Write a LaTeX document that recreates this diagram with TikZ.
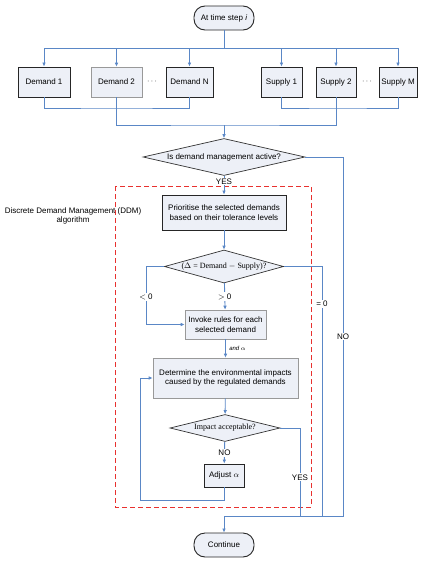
\documentclass[tikz,border=0pt]{standalone}
\usepackage{fontspec}
\setmainfont{Liberation Sans}
\newfontfamily\eqfont{Liberation Serif}
\usetikzlibrary{shapes.geometric, arrows.meta}
\definecolor{flowblue}{HTML}{5A87C6}
\definecolor{boxfill}{HTML}{EDF0F7}
\definecolor{ddmred}{HTML}{E8312F}
\begin{document}
\begin{tikzpicture}[x = 1pt, y = -1pt, font = \fontsize{8}{9.5}\selectfont,
  >={Latex[length = 4pt, width = 3.6pt]},
  box/.style = {draw = black!85, line width = 0.9pt, fill = boxfill, inner sep = 1pt, align = center},
  softbox/.style = {box, draw = gray!80, line width = 0.6pt},
  term/.style = {box, rounded corners = 11pt, minimum width = 60pt, minimum height = 24pt},
  decision/.style = {diamond, draw = black!80, line width = 0.7pt, fill = boxfill, inner sep = 0pt},
  flow/.style = {draw = flowblue, line width = 0.9pt},
  lbl/.style = {fill = white, inner sep = 1pt}]
\useasboundingbox (0,0) rectangle (421,573);
% frame of the DDM algorithm
\draw[ddmred, dashed, line width = 0.9pt, dash pattern = on 5pt off 3pt] (115,186) rectangle (311,507);
\node[align = center] at (73,216) (ddmlabel) {Discrete Demand Management (DDM)\\algorithm};
% nodes
\node[term] at (224,18) (start) {At time step \textit{i}};
\node[box, minimum width = 52pt, minimum height = 30pt] at (44,82) (d1) {Demand 1};
\node[softbox, minimum width = 51pt, minimum height = 30pt] at (116.5,82) (d2) {Demand 2};
\node[box, minimum width = 47pt, minimum height = 30pt] at (189.5,82) (dN) {Demand N};
\node at (152,82) (ddots) {$\cdots$};
\node[box, minimum width = 41pt, minimum height = 30pt] at (281.5,82) (s1) {Supply 1};
\node[box, minimum width = 40pt, minimum height = 30pt] at (336,82) (s2) {Supply 2};
\node[box, minimum width = 38pt, minimum height = 30pt] at (398,82) (sM) {Supply M};
\node at (367,82) (sdots) {$\cdots$};
\node[decision, aspect = 4.4, minimum width = 162pt, minimum height = 37pt] at (224,157) (dma) {Is demand management active?};
\node[box, minimum width = 124pt, minimum height = 35pt] at (224,212.5) (prio) {Prioritise the selected demands\\based on their tolerance levels};
\node[decision, aspect = 3.6, minimum width = 119pt, minimum height = 33pt, font = \eqfont\fontsize{8}{9.5}\selectfont] at (224,266.5) (delta) {($\Delta$ = Demand $-$ Supply)?};
\node[softbox, minimum width = 81pt, minimum height = 29pt] at (225.5,324.5) (invoke) {Invoke rules for each\\selected demand};
\node[softbox, minimum width = 145pt, minimum height = 40pt] at (225.5,378) (determine) {Determine the environmental impacts\\caused by the regulated demands};
\node[decision, aspect = 4.1, minimum width = 110pt, minimum height = 27pt, font = \eqfont\fontsize{8}{9.5}\selectfont] at (225,428) (impact) {Impact acceptable?};
\node[box, minimum width = 40pt, minimum height = 23pt] at (224,475.5) (adjust) {Adjust $\alpha$};
\node[term] at (224,545) (cont) {Continue};
% junctions
\coordinate (top) at (224,48);
\coordinate (dbus) at (116.5,108);
\coordinate (sbus) at (336,108);
\coordinate (mrg) at (224,125);
\coordinate (nocorner) at (343,516);
\coordinate (eqcorner) at (322,516);
\coordinate (yescorner) at (300,516);
\coordinate (join) at (224,516);
\coordinate (lt) at (146,324.5);
\coordinate (loop) at (140,500);
% connectors
\draw[flow] (start) -- (top);
\draw[flow, ->] (top) -| (d1);
\draw[flow, ->] (top) -| (d2);
\draw[flow, ->] (top) -| (dN);
\draw[flow, ->] (top) -| (s1);
\draw[flow, ->] (top) -| (s2);
\draw[flow, ->] (top) -| (sM);
\draw[flow] (d1) |- (dbus) -| (dN);
\draw[flow] (s1) |- (sbus) -| (sM);
\draw[flow] (d2) |- (mrg) -| (s2);
\draw[flow, ->] (mrg) -- (dma);
\draw[flow, ->] (dma) -- node[lbl, pos = 0.3] {YES} (prio);
\draw[flow] (dma) -| node[lbl, pos = 0.75] {NO} (nocorner) -- (join);
\draw[flow, ->] (prio) -- (delta);
\draw[flow, ->] (delta) -| node[lbl, pos = 0.76] {$<$ 0} (lt) -- (invoke);
\draw[flow, ->] (delta) -- node[lbl] {$>$ 0} (invoke);
\draw[flow] (delta) -| node[lbl, pos = 0.575] {= 0} (eqcorner);
\draw[flow, ->] (invoke) -- node[right, font = \itshape\fontsize{6}{7}\selectfont] {and $\alpha$} (determine);
\draw[flow, ->] (determine) -- (impact);
\draw[flow] (impact) -| node[lbl, pos = 0.78] {YES} (yescorner);
\draw[flow, ->] (impact) -- node[lbl] {NO} (adjust);
\draw[flow, ->] (adjust) |- (loop) |- (determine);
\draw[flow, ->] (join) -- (cont);
\end{tikzpicture}
\end{document}
